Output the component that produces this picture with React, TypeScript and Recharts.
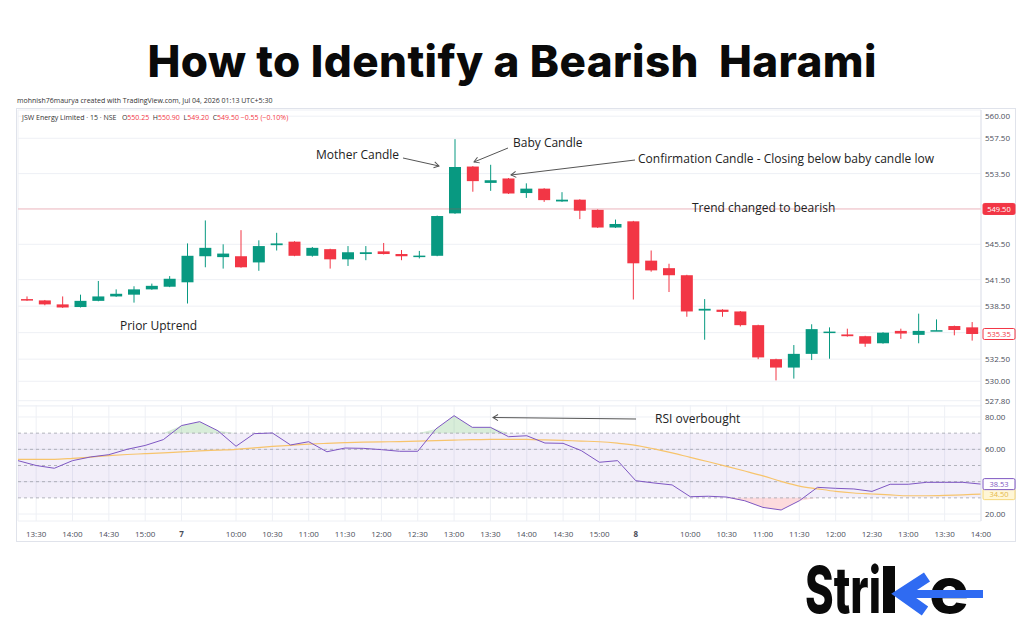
import React from 'react'
import type { ReactElement } from 'react'
import {
  Area, Bar, CartesianGrid, ComposedChart, Line, ReferenceArea, ReferenceLine, XAxis, YAxis
} from 'recharts'

// 15-minute sessions shown on the chart
const day6Times = ['13:15', '13:30', '13:45', '14:00', '14:15', '14:30', '14:45', '15:00', '15:15']
const day7Times = [
  '09:15', '09:30', '09:45', '10:00', '10:15', '10:30', '10:45', '11:00', '11:15', '11:30',
  '11:45', '12:00', '12:15', '12:30', '12:45', '13:00', '13:15', '13:30', '13:45', '14:00',
  '14:15', '14:30', '14:45', '15:00', '15:15'
]
const day8Times = [
  '09:15', '09:30', '09:45', '10:00', '10:15', '10:30', '10:45', '11:00', '11:15', '11:30',
  '11:45', '12:00', '12:15', '12:30', '12:45', '13:00', '13:15', '13:30', '13:45', '14:00'
]

const opens = [
  539.3, 539.15, 538.7, 538.4, 539.1, 539.6, 539.8, 540.4, 540.7,
  541.2, 544.15, 544.05, 544.15, 543.45, 545.4, 545.8, 544.2, 544.95, 543.8,
  544.4, 544.7, 544.4, 544.15, 544.2, 549.0, 554.3, 552.45, 552.95, 551.3,
  551.8, 550.35, 550.55, 549.4, 547.4,
  548.1, 543.65, 542.8, 542.0, 538.0, 538.1, 537.9, 536.35, 532.5, 531.55,
  533.1, 535.6, 535.3, 535.1, 534.3, 535.7, 535.25, 535.75, 536.25, 536.1
]
const highs = [
  539.6, 539.2, 539.6, 539.8, 541.35, 540.4, 540.75, 541.05, 541.9,
  545.6, 548.2, 545.5, 547.1, 545.95, 546.8, 545.85, 545.2, 545.0, 545.3,
  545.3, 545.65, 544.85, 544.75, 548.75, 557.4, 554.35, 554.5, 553.0, 552.4,
  551.85, 551.4, 550.6, 549.45, 548.3,
  548.15, 544.8, 543.3, 542.05, 539.3, 538.15, 537.95, 536.4, 532.55, 534.1,
  536.45, 536.1, 535.95, 535.15, 535.55, 535.95, 537.65, 537.0, 536.3, 536.7
]
const lows = [
  539.1, 538.6, 538.3, 538.35, 539.05, 539.55, 538.9, 540.35, 540.65,
  538.8, 542.9, 542.75, 542.85, 542.5, 544.8, 544.15, 544.1, 542.75, 543.05,
  543.7, 544.35, 543.7, 543.9, 544.15, 548.95, 551.45, 551.55, 551.2, 550.75,
  550.3, 550.3, 548.35, 547.35, 547.35,
  539.25, 542.4, 540.1, 537.3, 534.7, 537.3, 536.2, 532.5, 530.1, 530.3,
  532.4, 532.55, 535.05, 533.9, 534.25, 534.8, 534.3, 535.7, 535.2, 534.6
]
const closes = [
  539.15, 538.7, 538.35, 539.1, 539.6, 539.9, 540.4, 540.8, 541.6,
  544.2, 545.1, 544.45, 542.9, 545.3, 545.6, 544.2, 545.1, 543.8, 544.6,
  544.6, 544.4, 544.15, 544.22, 548.7, 554.25, 552.65, 552.75, 551.25, 551.8,
  550.5, 550.55, 549.3, 547.4, 547.8,
  543.35, 542.55, 542.0, 537.9, 538.2, 537.85, 536.35, 532.7, 531.55, 533.1,
  535.9, 535.62, 535.1, 534.25, 535.5, 535.4, 535.7, 535.78, 535.8, 535.35
]

const rsiValues = [
  53, 50, 48.3, 53, 55.3, 56.7, 60, 62.4, 66,
  74.7, 77.1, 71.5, 61.9, 69.7, 70.1, 62.7, 64.7, 58.5, 60.8,
  60.6, 59.8, 58.8, 58.8, 72.6, 80.8, 73.6, 73.6, 67.8, 68.4,
  63.9, 63.7, 59.2, 52, 53,
  40.6, 39.2, 38, 30.7, 31, 30.5, 28.2, 24.1, 22.5, 28.2,
  36.5, 35.9, 35.5, 34, 38.4, 38.4, 39.6, 39.6, 39.6, 38.5
]
const rsiMaValues = [
  53.8, 53.8, 53.8, 54.4, 55.2, 56.1, 56.8, 57.3, 57.8,
  58.4, 59, 59.5, 60, 60.9, 61.8, 62.5, 63.2, 63.7, 64.1,
  64.4, 64.6, 64.8, 65.1, 65.4, 65.7, 66, 66.2, 66.2, 66.1,
  65.8, 65.5, 65.1, 64.7, 63.8,
  62.5, 60.3, 57.8, 55, 52.3, 49.5, 46.6, 43.6, 40.2, 37.3,
  35.6, 34, 33, 32.4, 31.8, 31.3, 31.3, 31.5, 31.9, 32.3
]

const priceTicks = [560, 557.5, 553.5, 549.5, 545.5, 541.5, 538.5, 535.5, 532.5, 530, 527.8]
const hiddenPriceTicks = [549.5, 535.5]
const rsiTicks = [80, 60, 40, 20]
const hiddenRsiTicks = [40]
const rsiBands = [70, 60, 50, 40, 30]

const xTickKeys = [
  '6|13:30', '6|14:00', '6|14:30', '6|15:00',
  '7|09:15', '7|10:00', '7|10:30', '7|11:00', '7|11:30', '7|12:00', '7|12:30', '7|13:00',
  '7|13:30', '7|14:00', '7|14:30', '7|15:00',
  '8|09:15', '8|10:00', '8|10:30', '8|11:00', '8|11:30', '8|12:00', '8|12:30', '8|13:00',
  '8|13:30', '8|14:00'
]

const keys = [
  ...day6Times.map(t => `6|${t}`),
  ...day7Times.map(t => `7|${t}`),
  ...day8Times.map(t => `8|${t}`)
]
const rows = keys.map((key, i) => ({
  key, o: opens[i], h: highs[i], l: lows[i], c: closes[i], rsi: rsiValues[i], ma: rsiMaValues[i]
}))

const GREEN = '#089981'
const RED = '#f23645'
const PURPLE = '#7e57c2'
const GRID = '#eef0f5'
const FONT = '"Open Sans", "DejaVu Sans", sans-serif'
const AXIS_TEXT = '#4a4e5a'
const BRAND_BLUE = '#2f6bf2'

const PLOT_LEFT = 18
const AXIS_W = 43
const CHART_W = 1024

function Candle(props: any): ReactElement {
  const { x, y, width, height, payload } = props
  if (!payload) return <g />
  const { o, h, l, c } = payload
  const top = Math.min(y, y + height)
  const span = Math.abs(height)
  const ppu = span / (h - l)
  const py = (v: number) => top + (h - v) * ppu
  const color = c >= o ? GREEN : RED
  const bodyTop = py(Math.max(o, c))
  const bodyH = Math.max(1.5, Math.abs(py(o) - py(c)))
  const cx = x + width / 2
  return (
    <g>
      <line x1={cx} x2={cx} y1={top} y2={top + span} stroke={color} strokeWidth={1} />
      <rect x={x} y={bodyTop} width={width} height={bodyH} fill={color} />
    </g>
  )
}

const axisTick = (hidden: number[]) => (p: any): ReactElement => {
  if (hidden.includes(p.payload.value)) return <g />
  return (
    <text x={p.x} y={p.y} dy={3} fontSize={8} fill={AXIS_TEXT} fontFamily={FONT} textAnchor="start">
      {p.payload.value.toFixed(2)}
    </text>
  )
}

function TimeTick(p: any): ReactElement {
  const [day, time] = String(p.payload.value).split('|')
  const isDay = time === '09:15'
  return (
    <text x={p.x} y={p.y} dy={8} fontSize={8} fill={AXIS_TEXT} fontFamily={FONT}
      textAnchor="middle" fontWeight={isDay ? 700 : 400}>
      {isDay ? day : time}
    </text>
  )
}

const tag = (text: string, bg: string, border: string, color: string) => (props: any): ReactElement => {
  const vb = props.viewBox || {}
  const x = (vb.x ?? 0) + (vb.width ?? 0) + 2
  const y = vb.y ?? 0
  return (
    <g>
      <rect x={x} y={y - 5.5} width={32} height={11} fill={bg} stroke={border} strokeWidth={1} rx={1.5} />
      <text x={x + 16} y={y + 3} textAnchor="middle" fontSize={7.5} fill={color} fontFamily={FONT}>{text}</text>
    </g>
  )
}

function PriceChart(): ReactElement {
  return (
    <ComposedChart width={CHART_W} height={310} data={rows}
      margin={{ top: 10, right: 0, bottom: 4, left: PLOT_LEFT }}>
      <CartesianGrid stroke={GRID} />
      <XAxis dataKey="key" ticks={xTickKeys} tick={false} tickLine={false} axisLine={false} height={0} />
      <YAxis orientation="right" width={AXIS_W} domain={[527.2, 560.7]} ticks={priceTicks}
        interval={0} tickLine={false} tickSize={2} tickMargin={2}
        axisLine={{ stroke: '#e0e3eb' }} tick={axisTick(hiddenPriceTicks)} allowDataOverflow />
      <ReferenceLine y={549.5} stroke={RED} strokeOpacity={0.3}
        label={tag('549.50', RED, RED, '#ffffff')} />
      <ReferenceLine y={535.35} stroke="none" strokeOpacity={0}
        label={tag('535.35', '#ffffff', RED, RED)} />
      <Bar dataKey={(d: any) => [d.l, d.h]} shape={(p: any) => <Candle {...p} />}
        barSize={12} isAnimationActive={false} />
    </ComposedChart>
  )
}

function RsiChart(): ReactElement {
  return (
    <ComposedChart width={CHART_W} height={140} data={rows}
      margin={{ top: 0, right: 0, bottom: 4, left: PLOT_LEFT }}>
      <CartesianGrid stroke={GRID} />
      <ReferenceArea y1={30} y2={70} fill={PURPLE} fillOpacity={0.1} stroke="none" />
      {rsiBands.map(v => (
        <ReferenceLine key={v} y={v} stroke="#9598a1" strokeDasharray="3 3" strokeOpacity={0.7} />
      ))}
      <XAxis dataKey="key" ticks={xTickKeys} interval={0} tick={TimeTick} tickLine={false}
        axisLine={false} height={20} />
      <YAxis orientation="right" width={AXIS_W} domain={[15.7, 87.4]} ticks={rsiTicks}
        interval={0} tickLine={false} tickSize={2} tickMargin={2}
        axisLine={{ stroke: '#e0e3eb' }} tick={axisTick(hiddenRsiTicks)} allowDataOverflow />
      <Area dataKey={(d: any) => [70, Math.max(70, d.rsi)]} type="linear" stroke="none"
        fill="#4caf50" fillOpacity={0.22} isAnimationActive={false} />
      <Area dataKey={(d: any) => [Math.min(30, d.rsi), 30]} type="linear" stroke="none"
        fill={RED} fillOpacity={0.18} isAnimationActive={false} />
      <Line dataKey="ma" type="monotone" stroke="#f7c46c" strokeWidth={1.2} dot={false}
        isAnimationActive={false} />
      <Line dataKey="rsi" type="linear" stroke={PURPLE} strokeWidth={1} dot={false}
        isAnimationActive={false} />
      <ReferenceLine y={rsiMaValues[rsiMaValues.length - 1]} stroke="none" strokeOpacity={0}
        label={tag('34.50', '#fff6d6', '#f5d77a', '#e6b84a')} />
      <ReferenceLine y={rsiValues[rsiValues.length - 1]} stroke="none" strokeOpacity={0}
        label={tag('38.53', '#ffffff', PURPLE, PURPLE)} />
    </ComposedChart>
  )
}

const note: React.CSSProperties = {
  position: 'absolute', fontFamily: FONT, fontSize: 12, color: '#222', whiteSpace: 'nowrap', lineHeight: '14px'
}

export default function App(): ReactElement {
  return (
    <div style={{ position: 'absolute', left: 0, top: 0, width: 1024, height: 640, background: '#fff', overflow: 'hidden' }}>
      <svg width={1024} height={100} style={{ position: 'absolute', left: 0, top: 0 }}>
        <text x={512} y={77} textAnchor="middle" fontSize={44} fontWeight={800}
          fontFamily='Inter, "Open Sans", sans-serif' fill="#0a0a0a" textLength={729}
          style={{ whiteSpace: 'pre' }}>
          How to Identify a Bearish  Harami
        </text>
      </svg>

      <div style={{ position: 'absolute', left: 17, top: 96, fontFamily: FONT, fontSize: 7, color: '#333', whiteSpace: 'nowrap' }}>
        mohnish76maurya created with TradingView.com, Jul 04, 2026 01:13 UTC+5:30
      </div>

      <div style={{ position: 'absolute', left: 16, top: 108, width: 998, height: 432, border: '1px solid #e0e3eb' }} />

      <div style={{ position: 'absolute', left: 0, top: 100 }}>
        <PriceChart />
      </div>
      <div style={{ position: 'absolute', left: 0, top: 405 }}>
        <RsiChart />
      </div>

      <div style={{ position: 'absolute', left: 22, top: 113, fontFamily: FONT, fontSize: 7, color: '#333', whiteSpace: 'nowrap', background: '#fff' }}>
        JSW Energy Limited · 15 · NSE&nbsp;&nbsp;
        O<span style={{ color: RED }}>550.25</span>&nbsp;
        H<span style={{ color: RED }}>550.90</span>&nbsp;
        L<span style={{ color: RED }}>549.20</span>&nbsp;
        C<span style={{ color: RED }}>549.50</span>&nbsp;
        <span style={{ color: RED }}>−0.55 (−0.10%)</span>
      </div>

      <div style={{ ...note, left: 316, top: 148 }}>Mother Candle</div>
      <div style={{ ...note, left: 513, top: 136 }}>Baby Candle</div>
      <div style={{ ...note, left: 638, top: 152 }}>Confirmation Candle - Closing below baby candle low</div>
      <div style={{ ...note, left: 692, top: 201 }}>Trend changed to bearish</div>
      <div style={{ ...note, left: 120, top: 319 }}>Prior Uptrend</div>
      <div style={{ ...note, left: 655, top: 412 }}>RSI overbought</div>

      <svg width={1024} height={640} style={{ position: 'absolute', left: 0, top: 0, pointerEvents: 'none' }}>
        <defs>
          <marker id="arr" markerWidth={8} markerHeight={8} refX={6} refY={4} orient="auto">
            <path d="M1,1 L6,4 L1,7" fill="none" stroke="#555" strokeWidth={1} />
          </marker>
        </defs>
        <line x1={403} y1={158} x2={439} y2={166} stroke="#555" strokeWidth={1} markerEnd="url(#arr)" />
        <line x1={508} y1={148} x2={474} y2={162} stroke="#555" strokeWidth={1} markerEnd="url(#arr)" />
        <line x1={635} y1={160} x2={511} y2={175} stroke="#555" strokeWidth={1} markerEnd="url(#arr)" />
        <line x1={636} y1={419} x2={493} y2={417.5} stroke="#555" strokeWidth={1} markerEnd="url(#arr)" />

        {/* Strike logo */}
        <text x={805} y={613} fontSize={64} fontWeight={800} fontFamily='Inter, "Open Sans", sans-serif'
          fill="#0a0a0a" textLength={76} lengthAdjust="spacingAndGlyphs">Stri</text>
        <rect x={883} y={566} width={12} height={47} fill="#0a0a0a" />
        <text x={929} y={613} fontSize={64} fontWeight={800} fontFamily='Inter, "Open Sans", sans-serif'
          fill="#0a0a0a" textLength={40} lengthAdjust="spacingAndGlyphs">e</text>
        <polyline points="927,577 901,594 925,611" fill="none" stroke={BRAND_BLUE} strokeWidth={11}
          strokeLinejoin="miter" strokeLinecap="butt" />
        <rect x={902} y={590} width={81} height={8} fill={BRAND_BLUE} />
      </svg>
    </div>
  )
}
